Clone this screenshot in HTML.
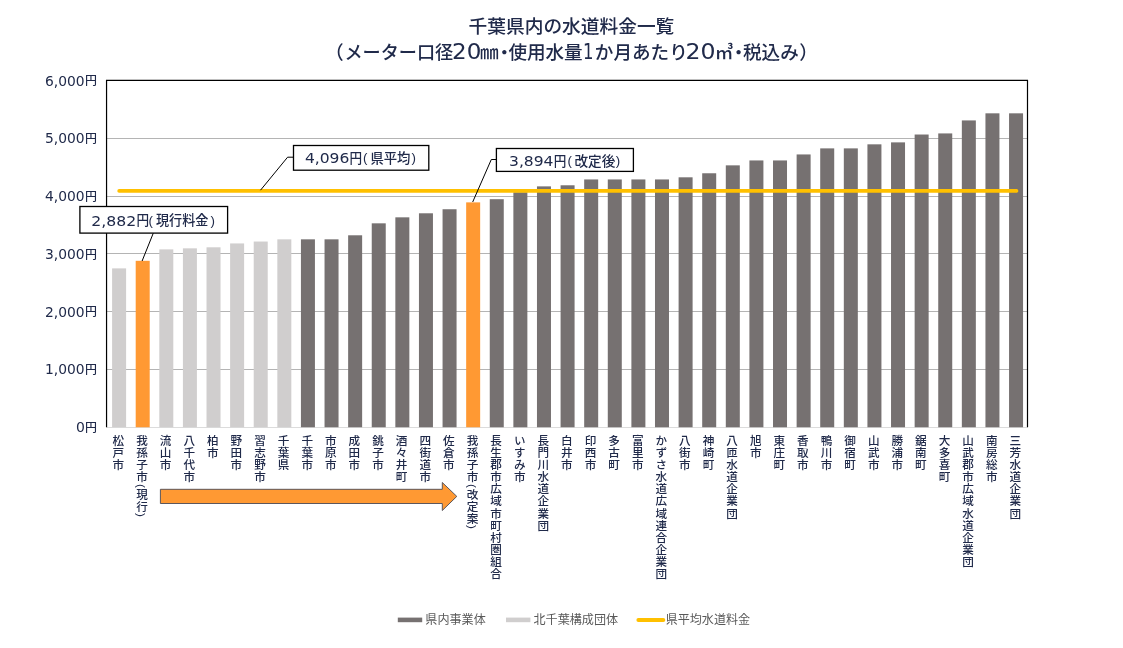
<!DOCTYPE html>
<html lang="ja"><head><meta charset="utf-8"><title>千葉県内の水道料金一覧</title>
<style>
html,body{margin:0;padding:0;background:#fff;}
body{width:1123px;height:648px;position:relative;overflow:hidden;font-family:"Liberation Sans","Noto Sans CJK JP",sans-serif;color:#202a4a;}
.xl{position:absolute;white-space:nowrap;writing-mode:vertical-rl;text-orientation:mixed;font-size:11.6px;line-height:14px;width:14px;top:434.9px;letter-spacing:0.45px;font-weight:500;}
.xl span{margin:0.6px 0;}
</style></head><body>

<svg width="1123" height="648" viewBox="0 0 1123 648" style="position:absolute;left:0;top:0">
<line x1="106.55" x2="1027.5" y1="427.50" y2="427.50" stroke="#dcdcdc" stroke-width="1"/>
<line x1="106.55" x2="1027.5" y1="369.50" y2="369.50" stroke="#b4b4b4" stroke-width="1"/>
<line x1="106.55" x2="1027.5" y1="311.50" y2="311.50" stroke="#b4b4b4" stroke-width="1"/>
<line x1="106.55" x2="1027.5" y1="253.50" y2="253.50" stroke="#b4b4b4" stroke-width="1"/>
<line x1="106.55" x2="1027.5" y1="196.50" y2="196.50" stroke="#b4b4b4" stroke-width="1"/>
<line x1="106.55" x2="1027.5" y1="138.50" y2="138.50" stroke="#b4b4b4" stroke-width="1"/>
<rect x="112.10" y="268.38" width="14.0" height="158.87" fill="#d0cece"/>
<rect x="135.70" y="260.81" width="14.0" height="166.44" fill="#ff9933"/>
<rect x="159.31" y="249.38" width="14.0" height="177.87" fill="#d0cece"/>
<rect x="182.91" y="248.34" width="14.0" height="178.91" fill="#d0cece"/>
<rect x="206.52" y="247.30" width="14.0" height="179.95" fill="#d0cece"/>
<rect x="230.12" y="243.43" width="14.0" height="183.82" fill="#d0cece"/>
<rect x="253.72" y="241.53" width="14.0" height="185.72" fill="#d0cece"/>
<rect x="277.33" y="239.33" width="14.0" height="187.92" fill="#d0cece"/>
<rect x="300.93" y="239.33" width="14.0" height="187.92" fill="#767171"/>
<rect x="324.54" y="239.33" width="14.0" height="187.92" fill="#767171"/>
<rect x="348.14" y="235.29" width="14.0" height="191.96" fill="#767171"/>
<rect x="371.74" y="223.33" width="14.0" height="203.92" fill="#767171"/>
<rect x="395.35" y="217.33" width="14.0" height="209.92" fill="#767171"/>
<rect x="418.95" y="213.29" width="14.0" height="213.96" fill="#767171"/>
<rect x="442.56" y="209.24" width="14.0" height="218.01" fill="#767171"/>
<rect x="466.16" y="202.37" width="14.0" height="224.88" fill="#ff9933"/>
<rect x="489.76" y="199.20" width="14.0" height="228.05" fill="#767171"/>
<rect x="513.37" y="192.21" width="14.0" height="235.04" fill="#767171"/>
<rect x="536.97" y="186.37" width="14.0" height="240.88" fill="#767171"/>
<rect x="560.58" y="185.28" width="14.0" height="241.97" fill="#767171"/>
<rect x="584.18" y="179.44" width="14.0" height="247.81" fill="#767171"/>
<rect x="607.78" y="179.44" width="14.0" height="247.81" fill="#767171"/>
<rect x="631.39" y="179.44" width="14.0" height="247.81" fill="#767171"/>
<rect x="654.99" y="179.44" width="14.0" height="247.81" fill="#767171"/>
<rect x="678.60" y="177.31" width="14.0" height="249.94" fill="#767171"/>
<rect x="702.20" y="173.27" width="14.0" height="253.98" fill="#767171"/>
<rect x="725.80" y="165.35" width="14.0" height="261.90" fill="#767171"/>
<rect x="749.41" y="160.44" width="14.0" height="266.81" fill="#767171"/>
<rect x="773.01" y="160.44" width="14.0" height="266.81" fill="#767171"/>
<rect x="796.62" y="154.44" width="14.0" height="272.81" fill="#767171"/>
<rect x="820.22" y="148.38" width="14.0" height="278.87" fill="#767171"/>
<rect x="843.82" y="148.38" width="14.0" height="278.87" fill="#767171"/>
<rect x="867.43" y="144.33" width="14.0" height="282.92" fill="#767171"/>
<rect x="891.03" y="142.37" width="14.0" height="284.88" fill="#767171"/>
<rect x="914.64" y="134.52" width="14.0" height="292.73" fill="#767171"/>
<rect x="938.24" y="133.42" width="14.0" height="293.83" fill="#767171"/>
<rect x="961.84" y="120.42" width="14.0" height="306.83" fill="#767171"/>
<rect x="985.45" y="113.32" width="14.0" height="313.93" fill="#767171"/>
<rect x="1009.05" y="113.32" width="14.0" height="313.93" fill="#767171"/>
<polyline points="106.55,427.25 106.55,80.45 1027.5,80.45 1027.5,427.25" fill="none" stroke="#000" stroke-width="1.2"/>
<line x1="119.1" x2="1016.55" y1="190.9" y2="190.9" stroke="#ffc000" stroke-width="3.6" stroke-linecap="round"/>
<polyline points="293.5,157.2 287.6,157.2 260.5,190.2" fill="none" stroke="#000" stroke-width="1"/>
<polyline points="496.4,159.5 491.3,159.5 472.7,202" fill="none" stroke="#000" stroke-width="1"/>
<polyline points="153.3,233.1 142.1,261.0" fill="none" stroke="#000" stroke-width="1"/>
<rect x="79.9" y="206.5" width="147.7" height="26.6" fill="#fff" stroke="#000" stroke-width="1.3"/>
<rect x="293.5" y="145.5" width="135.3" height="24.7" fill="#fff" stroke="#000" stroke-width="1.3"/>
<rect x="496.4" y="148.5" width="137.0" height="22.9" fill="#fff" stroke="#000" stroke-width="1.3"/>
<polygon points="160.4,489.3 442.3,489.3 442.3,482.5 456.8,496.4 442.3,510.5 442.3,503.5 160.4,503.5" fill="#ff9933" stroke="#4a4a55" stroke-width="0.9"/>
<rect x="397.8" y="617.6" width="24.4" height="4.6" fill="#767171"/>
<rect x="506" y="617.6" width="24.4" height="4.6" fill="#d0cece"/>
<line x1="638.4" x2="663.3" y1="619.9" y2="619.9" stroke="#ffc000" stroke-width="4" stroke-linecap="round"/>
<text x="468.60" y="32.90" font-size="18.7" font-weight="500" fill="#202a4a" style="font-family:'Liberation Sans','Noto Sans CJK JP',sans-serif" textLength="205.70" lengthAdjust="spacingAndGlyphs">千葉県内の水道料金一覧</text>
<text x="325.00" y="58.60" font-size="18.7" font-weight="500" fill="#202a4a" style="font-family:'Liberation Sans','Noto Sans CJK JP',sans-serif">（</text>
<text x="344.40" y="58.60" font-size="18.7" font-weight="500" fill="#202a4a" style="font-family:'Liberation Sans','Noto Sans CJK JP',sans-serif" textLength="108.80" lengthAdjust="spacingAndGlyphs">メーター口径</text>
<text x="452.10" y="58.60" font-size="20.4" font-weight="400" fill="#202a4a" style="font-family:'DejaVu Sans','Liberation Sans',sans-serif" textLength="29.30" lengthAdjust="spacingAndGlyphs">20</text>
<text x="480.10" y="58.60" font-size="18.7" font-weight="500" fill="#202a4a" style="font-family:'Liberation Sans','Noto Sans CJK JP',sans-serif">㎜</text>
<text x="495.00" y="58.60" font-size="18.7" font-weight="500" fill="#202a4a" style="font-family:'Liberation Sans','Noto Sans CJK JP',sans-serif">・</text>
<text x="508.40" y="58.60" font-size="18.7" font-weight="500" fill="#202a4a" style="font-family:'Liberation Sans','Noto Sans CJK JP',sans-serif" textLength="74.30" lengthAdjust="spacingAndGlyphs">使用水量</text>
<text x="583.00" y="58.60" font-size="20.4" font-weight="400" fill="#202a4a" style="font-family:'DejaVu Sans','Liberation Sans',sans-serif" textLength="10.50" lengthAdjust="spacingAndGlyphs">1</text>
<text x="594.80" y="58.60" font-size="18.7" font-weight="500" fill="#202a4a" style="font-family:'Liberation Sans','Noto Sans CJK JP',sans-serif" textLength="93.00" lengthAdjust="spacingAndGlyphs">か月あたり</text>
<text x="685.60" y="58.60" font-size="20.4" font-weight="400" fill="#202a4a" style="font-family:'DejaVu Sans','Liberation Sans',sans-serif" textLength="30.00" lengthAdjust="spacingAndGlyphs">20</text>
<text x="715.00" y="58.60" font-size="18.7" font-weight="500" fill="#202a4a" style="font-family:'Liberation Sans','Noto Sans CJK JP',sans-serif" textLength="18.30" lengthAdjust="spacingAndGlyphs">㎥</text>
<text x="729.30" y="58.60" font-size="18.7" font-weight="500" fill="#202a4a" style="font-family:'Liberation Sans','Noto Sans CJK JP',sans-serif">・</text>
<text x="743.00" y="58.60" font-size="18.7" font-weight="500" fill="#202a4a" style="font-family:'Liberation Sans','Noto Sans CJK JP',sans-serif" textLength="55.80" lengthAdjust="spacingAndGlyphs">税込み</text>
<text x="799.20" y="58.60" font-size="18.7" font-weight="500" fill="#202a4a" style="font-family:'Liberation Sans','Noto Sans CJK JP',sans-serif">）</text>
<text x="76.00" y="432.15" font-size="13.4" font-weight="400" fill="#202a4a" style="font-family:'DejaVu Sans','Liberation Sans',sans-serif" textLength="8.90" lengthAdjust="spacingAndGlyphs">0</text>
<text x="84.90" y="431.85" font-size="12" font-weight="500" fill="#202a4a" style="font-family:'Liberation Sans','Noto Sans CJK JP',sans-serif" textLength="12.00" lengthAdjust="spacingAndGlyphs">円</text>
<text x="45.00" y="374.40" font-size="13.4" font-weight="400" fill="#202a4a" style="font-family:'DejaVu Sans','Liberation Sans',sans-serif" textLength="39.60" lengthAdjust="spacingAndGlyphs">1,000</text>
<text x="84.90" y="374.10" font-size="12" font-weight="500" fill="#202a4a" style="font-family:'Liberation Sans','Noto Sans CJK JP',sans-serif" textLength="12.00" lengthAdjust="spacingAndGlyphs">円</text>
<text x="45.00" y="316.65" font-size="13.4" font-weight="400" fill="#202a4a" style="font-family:'DejaVu Sans','Liberation Sans',sans-serif" textLength="39.60" lengthAdjust="spacingAndGlyphs">2,000</text>
<text x="84.90" y="316.35" font-size="12" font-weight="500" fill="#202a4a" style="font-family:'Liberation Sans','Noto Sans CJK JP',sans-serif" textLength="12.00" lengthAdjust="spacingAndGlyphs">円</text>
<text x="45.00" y="258.90" font-size="13.4" font-weight="400" fill="#202a4a" style="font-family:'DejaVu Sans','Liberation Sans',sans-serif" textLength="39.60" lengthAdjust="spacingAndGlyphs">3,000</text>
<text x="84.90" y="258.60" font-size="12" font-weight="500" fill="#202a4a" style="font-family:'Liberation Sans','Noto Sans CJK JP',sans-serif" textLength="12.00" lengthAdjust="spacingAndGlyphs">円</text>
<text x="45.00" y="201.15" font-size="13.4" font-weight="400" fill="#202a4a" style="font-family:'DejaVu Sans','Liberation Sans',sans-serif" textLength="39.60" lengthAdjust="spacingAndGlyphs">4,000</text>
<text x="84.90" y="200.85" font-size="12" font-weight="500" fill="#202a4a" style="font-family:'Liberation Sans','Noto Sans CJK JP',sans-serif" textLength="12.00" lengthAdjust="spacingAndGlyphs">円</text>
<text x="45.00" y="143.40" font-size="13.4" font-weight="400" fill="#202a4a" style="font-family:'DejaVu Sans','Liberation Sans',sans-serif" textLength="39.60" lengthAdjust="spacingAndGlyphs">5,000</text>
<text x="84.90" y="143.10" font-size="12" font-weight="500" fill="#202a4a" style="font-family:'Liberation Sans','Noto Sans CJK JP',sans-serif" textLength="12.00" lengthAdjust="spacingAndGlyphs">円</text>
<text x="45.00" y="85.65" font-size="13.4" font-weight="400" fill="#202a4a" style="font-family:'DejaVu Sans','Liberation Sans',sans-serif" textLength="39.60" lengthAdjust="spacingAndGlyphs">6,000</text>
<text x="84.90" y="85.35" font-size="12" font-weight="500" fill="#202a4a" style="font-family:'Liberation Sans','Noto Sans CJK JP',sans-serif" textLength="12.00" lengthAdjust="spacingAndGlyphs">円</text>
<text x="91.20" y="225.50" font-size="13.6" font-weight="400" fill="#202a4a" style="font-family:'DejaVu Sans','Liberation Sans',sans-serif" textLength="45.00" lengthAdjust="spacingAndGlyphs">2,882</text>
<text x="136.40" y="225.30" font-size="13.3" font-weight="500" fill="#202a4a" style="font-family:'Liberation Sans','Noto Sans CJK JP',sans-serif" textLength="12.60" lengthAdjust="spacingAndGlyphs">円</text>
<text x="148.60" y="225.10" font-size="13.3" font-weight="400" fill="#202a4a" style="font-family:'Liberation Sans','Noto Sans CJK JP',sans-serif">(</text>
<text x="156.00" y="225.30" font-size="13.3" font-weight="500" fill="#202a4a" style="font-family:'Liberation Sans','Noto Sans CJK JP',sans-serif" textLength="52.40" lengthAdjust="spacingAndGlyphs">現行料金</text>
<text x="210.40" y="225.10" font-size="13.3" font-weight="400" fill="#202a4a" style="font-family:'Liberation Sans','Noto Sans CJK JP',sans-serif">)</text>
<text x="304.90" y="162.80" font-size="13.6" font-weight="400" fill="#202a4a" style="font-family:'DejaVu Sans','Liberation Sans',sans-serif" textLength="44.50" lengthAdjust="spacingAndGlyphs">4,096</text>
<text x="349.60" y="162.60" font-size="13.3" font-weight="500" fill="#202a4a" style="font-family:'Liberation Sans','Noto Sans CJK JP',sans-serif" textLength="12.60" lengthAdjust="spacingAndGlyphs">円</text>
<text x="363.00" y="162.40" font-size="13.3" font-weight="400" fill="#202a4a" style="font-family:'Liberation Sans','Noto Sans CJK JP',sans-serif">(</text>
<text x="370.40" y="162.60" font-size="13.3" font-weight="500" fill="#202a4a" style="font-family:'Liberation Sans','Noto Sans CJK JP',sans-serif" textLength="40.10" lengthAdjust="spacingAndGlyphs">県平均</text>
<text x="411.40" y="162.40" font-size="13.3" font-weight="400" fill="#202a4a" style="font-family:'Liberation Sans','Noto Sans CJK JP',sans-serif">)</text>
<text x="509.00" y="165.80" font-size="13.6" font-weight="400" fill="#202a4a" style="font-family:'DejaVu Sans','Liberation Sans',sans-serif" textLength="44.50" lengthAdjust="spacingAndGlyphs">3,894</text>
<text x="553.70" y="165.60" font-size="13.3" font-weight="500" fill="#202a4a" style="font-family:'Liberation Sans','Noto Sans CJK JP',sans-serif" textLength="12.60" lengthAdjust="spacingAndGlyphs">円</text>
<text x="567.60" y="165.40" font-size="13.3" font-weight="400" fill="#202a4a" style="font-family:'Liberation Sans','Noto Sans CJK JP',sans-serif">(</text>
<text x="574.40" y="165.60" font-size="13.3" font-weight="500" fill="#202a4a" style="font-family:'Liberation Sans','Noto Sans CJK JP',sans-serif" textLength="41.00" lengthAdjust="spacingAndGlyphs">改定後</text>
<text x="615.80" y="165.40" font-size="13.3" font-weight="400" fill="#202a4a" style="font-family:'Liberation Sans','Noto Sans CJK JP',sans-serif">)</text>
<text x="425.30" y="624.20" font-size="12" font-weight="400" fill="#595959" style="font-family:'Liberation Sans','Noto Sans CJK JP',sans-serif" textLength="60.50" lengthAdjust="spacingAndGlyphs">県内事業体</text>
<text x="533.50" y="624.20" font-size="12" font-weight="400" fill="#595959" style="font-family:'Liberation Sans','Noto Sans CJK JP',sans-serif" textLength="84.60" lengthAdjust="spacingAndGlyphs">北千葉構成団体</text>
<text x="665.70" y="624.20" font-size="12" font-weight="400" fill="#595959" style="font-family:'Liberation Sans','Noto Sans CJK JP',sans-serif" textLength="84.40" lengthAdjust="spacingAndGlyphs">県平均水道料金</text>
</svg>
<div class="xl" style="left:110.4px">松戸市</div>
<div class="xl" style="left:134.0px">我孫子市<span>(</span>現行<span>)</span></div>
<div class="xl" style="left:157.6px">流山市</div>
<div class="xl" style="left:181.2px">八千代市</div>
<div class="xl" style="left:204.8px">柏市</div>
<div class="xl" style="left:228.4px">野田市</div>
<div class="xl" style="left:252.0px">習志野市</div>
<div class="xl" style="left:275.6px">千葉県</div>
<div class="xl" style="left:299.2px">千葉市</div>
<div class="xl" style="left:322.8px">市原市</div>
<div class="xl" style="left:346.4px">成田市</div>
<div class="xl" style="left:370.0px">銚子市</div>
<div class="xl" style="left:393.6px">酒々井町</div>
<div class="xl" style="left:417.3px">四街道市</div>
<div class="xl" style="left:440.9px">佐倉市</div>
<div class="xl" style="left:464.5px">我孫子市<span>(</span>改定案<span>)</span></div>
<div class="xl" style="left:488.1px">長生郡市広域市町村圏組合</div>
<div class="xl" style="left:511.7px">いすみ市</div>
<div class="xl" style="left:535.3px">長門川水道企業団</div>
<div class="xl" style="left:558.9px">白井市</div>
<div class="xl" style="left:582.5px">印西市</div>
<div class="xl" style="left:606.1px">多古町</div>
<div class="xl" style="left:629.7px">富里市</div>
<div class="xl" style="left:653.3px">かずさ水道広域連合企業団</div>
<div class="xl" style="left:676.9px">八街市</div>
<div class="xl" style="left:700.5px">神崎町</div>
<div class="xl" style="left:724.1px">八匝水道企業団</div>
<div class="xl" style="left:747.7px">旭市</div>
<div class="xl" style="left:771.3px">東庄町</div>
<div class="xl" style="left:794.9px">香取市</div>
<div class="xl" style="left:818.5px">鴨川市</div>
<div class="xl" style="left:842.1px">御宿町</div>
<div class="xl" style="left:865.7px">山武市</div>
<div class="xl" style="left:889.3px">勝浦市</div>
<div class="xl" style="left:912.9px">鋸南町</div>
<div class="xl" style="left:936.5px">大多喜町</div>
<div class="xl" style="left:960.1px">山武郡市広域水道企業団</div>
<div class="xl" style="left:983.7px">南房総市</div>
<div class="xl" style="left:1007.4px">三芳水道企業団</div>
</body></html>
